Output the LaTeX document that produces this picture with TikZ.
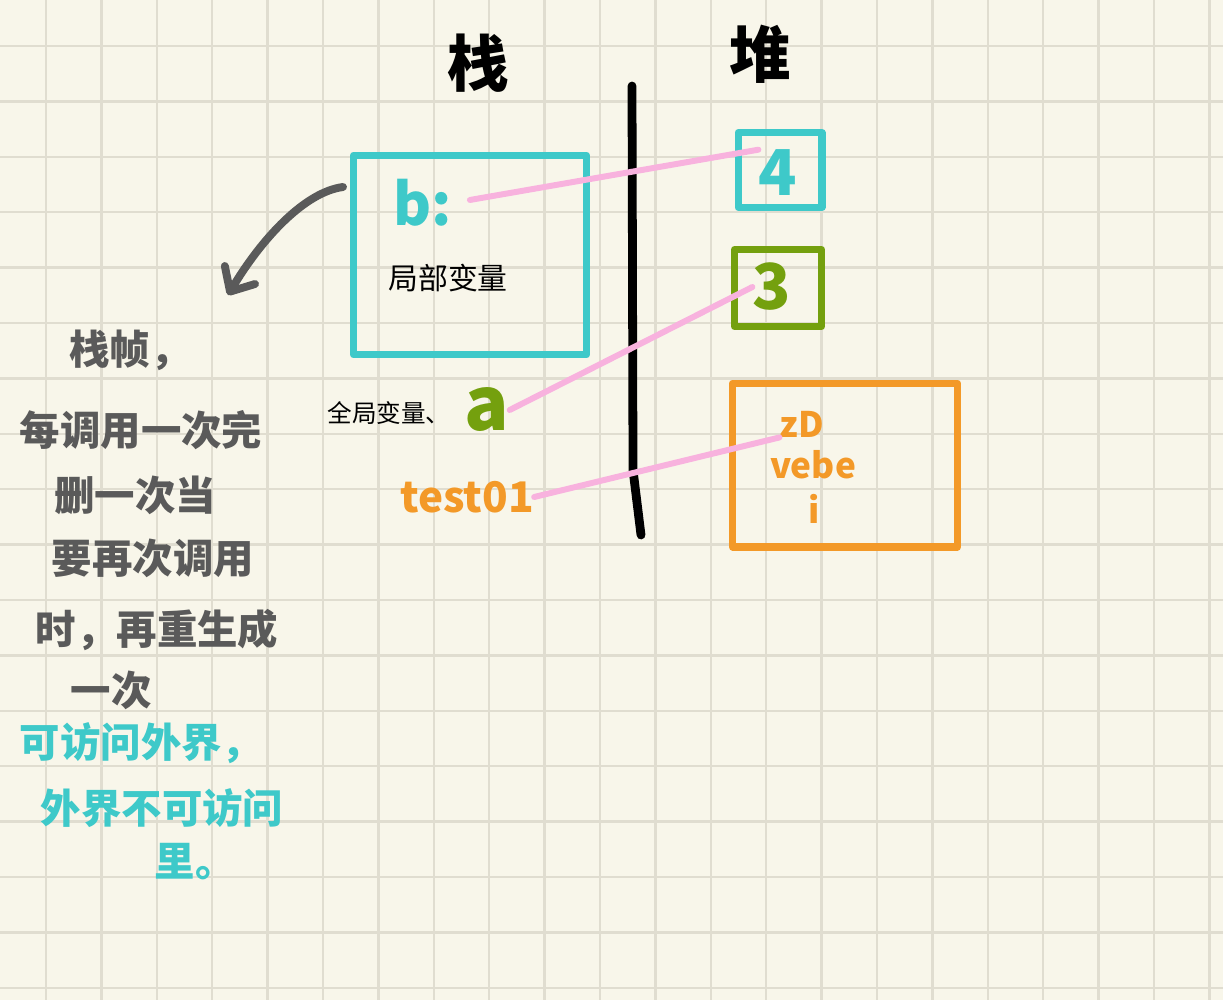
\documentclass[tikz,border=0pt]{standalone}
\usepackage{fontspec}
\setmainfont{Noto Sans CJK SC}
\usetikzlibrary{arrows.meta}
\definecolor{paper}{RGB}{248,246,234}
\definecolor{gridgray}{RGB}{224,221,208}
\definecolor{boxteal}{RGB}{62,201,201}
\definecolor{boxgreen}{RGB}{116,160,14}
\definecolor{boxorange}{RGB}{243,153,40}
\definecolor{linkpink}{RGB}{248,178,222}
\definecolor{pengray}{RGB}{90,90,90}
\tikzstyle{gridline}=[draw=gridgray, line width=1.4pt]
\tikzstyle{heading}=[inner sep=0, font=\fontsize{35}{38}\selectfont\bfseries]
\tikzstyle{divider}=[line width=5pt]
\tikzstyle{pointer}=[draw=linkpink, line width=3.4pt]
\tikzstyle{heapbox}=[draw, line width=4pt, rectangle]
\tikzstyle{varname}=[inner sep=0, font=\fontsize{33}{35}\selectfont\bfseries]
\tikzstyle{number}=[inner sep=0, font=\fontsize{36}{38}\selectfont\bfseries]
\tikzstyle{field}=[inner sep=0, text=boxorange, font=\fontsize{20}{22}\selectfont\bfseries]
\tikzstyle{scrawl}=[inner sep=0, text=black]
\tikzstyle{note}=[inner sep=0, text=pengray, font=\fontsize{23}{25}\selectfont\bfseries]
\tikzstyle{hint}=[inner sep=0, text=boxteal, font=\fontsize{23}{25}\selectfont\bfseries]

\begin{document}
\begin{tikzpicture}[x=0.02cm, y=-0.02cm, line cap=round, line join=round]
% Paper
    \useasboundingbox (0,0) rectangle (1223,1000);
    \fill[paper] (0,0) rectangle (1223,1000);
    \foreach \i in {0,...,21}
        \draw[gridline] ({46+55.4*\i},0) -- ({46+55.4*\i},1000);
    \foreach \j in {0,...,17}
        \draw[gridline] (0,{46+55.4*\j}) -- (1223,{46+55.4*\j});
% Headings
    \node[heading] (stacktitle) at (478,63) {栈};
    \node[heading] (heaptitle) at (760,54) {堆};
% Divider
    \draw[divider] (632,86) -- (633,470) -- (641,535);
% Stack side
    \node[heapbox, draw=boxteal, minimum width=4.66cm, minimum height=4cm] (frame) at (470,255) {};
    \node[varname, text=boxteal] (bvar) at (423,203) {b:};
    \node[scrawl, font=\fontsize{17}{19}\selectfont] (local) at (448,278) {局部变量};
    \node[scrawl, font=\fontsize{14}{16}\selectfont] (global) at (389,413) {全局变量、};
    \node[varname, text=boxgreen, font=\fontsize{42}{44}\selectfont\bfseries] (avar) at (487,410) {a};
    \node[varname, text=boxorange, font=\fontsize{24}{26}\selectfont\bfseries] (testvar) at (467,497) {test01};
% Heap side
    \node[heapbox, draw=boxteal, minimum width=1.68cm, minimum height=1.5cm] (box4) at (780,170) {};
    \node[number, text=boxteal] (four) at (778,173) {4};
    \node[heapbox, draw=boxgreen, minimum width=1.74cm, minimum height=1.54cm] (box3) at (778,288) {};
    \node[number, text=boxgreen] (three) at (772,287) {3};
    \node[heapbox, draw=boxorange, minimum width=4.5cm, minimum height=3.28cm] (object) at (845,465) {};
    \node[field] (zd) at (802,424) {zD};
    \node[field] (vebe) at (813,465) {vebe};
    \node[field] (idot) at (814,509) {i};
% References
    \draw[pointer, shorten <=10pt] (bvar.east) -- (four.north west);
    \draw[pointer] (avar.east) -- (three.west);
    \draw[pointer] (testvar.east) -- (zd.south west);
% Notes on the stack frame
    \coordinate (arrowtail) at (343,187);
    \coordinate (arrowtip) at (228,295);
    \draw[pengray, line width=4.5pt, -{Straight Barb[round, length=11pt, width=20pt]}]
        (arrowtail) .. controls (305,192) and (262,238) .. (arrowtip);
    \node[note] (note1) at (130,350) {栈帧，};
    \node[note] (note2) at (141,430) {每调用一次完};
    \node[note] (note3) at (135,495) {删一次当};
    \node[note] (note4) at (153,558) {要再次调用};
    \node[note] (note5) at (157,630) {时，再重生成};
    \node[note] (note6) at (111,690) {一次};
    \node[hint] (hint1) at (141,743) {可访问外界，};
    \node[hint] (hint2) at (162,808) {外界不可访问};
    \node[hint] (hint3) at (195,862) {里。};
\end{tikzpicture}
\end{document}
